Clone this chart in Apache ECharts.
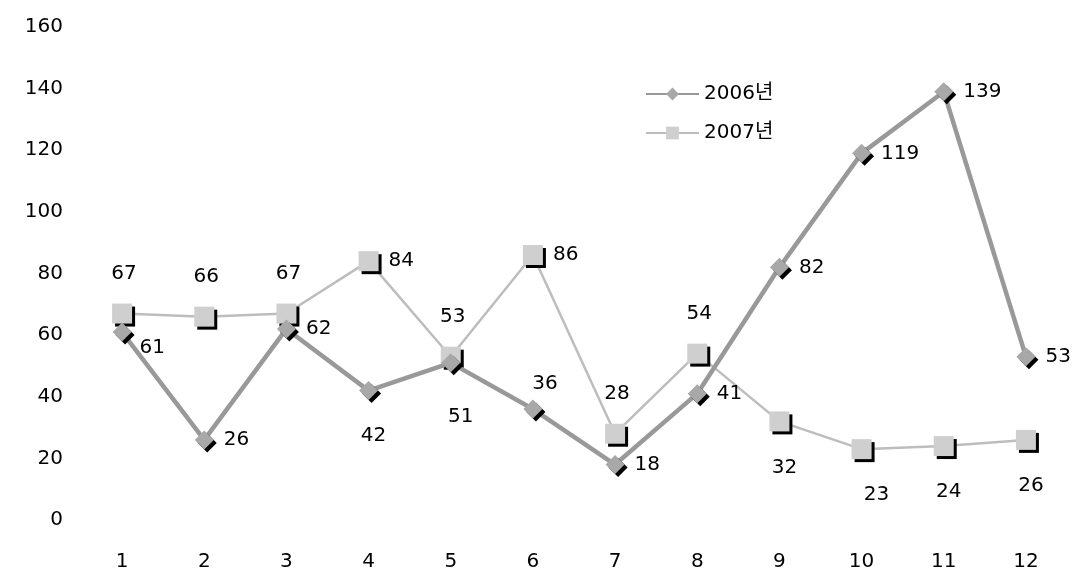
<!DOCTYPE html>
<html>
<head>
<meta charset="utf-8">
<script src="https://cdn.jsdelivr.net/npm/echarts@6/dist/echarts.min.js"></script>
<style>
  html, body { margin: 0; padding: 0; background: #fff; }
  #chart { width: 1092px; height: 572px; }
</style>
</head>
<body>
<div id="chart"></div>
<script>
// Months 1–12
const months = ['1', '2', '3', '4', '5', '6', '7', '8', '9', '10', '11', '12'];
const seriesNames = ['2006년', '2007년'];
const values2006 = [61, 26, 62, 42, 51, 36, 18, 41, 82, 119, 139, 53];
const values2007 = [67, 66, 67, 84, 53, 86, 28, 54, 32, 23, 24, 26];

// Where each value label sits relative to its marker
const place2006 = ['rb', 'r', 'r', 'b', 'bb', 'tr', 'r', 'r', 'r', 'r', 'r', 'r'];
const place2007 = ['t', 't', 't', 'r', 't', 'r', 't', 't', 'b', 'bf', 'b', 'b'];

const FONT = '"DejaVu Sans", "Noto Sans CJK KR", sans-serif';

function labelFor(code) {
  switch (code) {
    case 'r':  return { position: 'right', distance: 10 };
    case 'rb': return { position: 'right', distance: 8, offset: [0, 16] };
    case 'b':  return { position: 'bottom', distance: 26, offset: [5, 0] };
    case 'bb': return { position: 'bottom', distance: 34, offset: [10, 0] };
    case 'bf': return { position: 'bottom', distance: 26, offset: [15, 0] };
    case 'tr': return { position: 'top', distance: 6, offset: [12, 0] };
    case 't':  return { position: 'top', distance: 20, offset: [2, 0] };
  }
}

function buildData(values, places) {
  return values.map((v, i) => ({ value: v, label: labelFor(places[i]) }));
}

const chart = echarts.init(document.getElementById('chart'), null, { renderer: 'canvas' });

chart.setOption({
  animation: false,
  backgroundColor: '#fff',
  textStyle: { fontFamily: FONT },
  grid: { left: 81, right: 25, top: 27, bottom: 50 },
  legend: {
    data: seriesNames,
    orient: 'vertical',
    left: 640,
    top: 79,
    itemWidth: 53,
    itemHeight: 16,
    itemGap: 19,
    textStyle: { fontSize: 20, color: '#000', fontFamily: FONT }
  },
  xAxis: {
    type: 'category',
    data: months,
    boundaryGap: true,
    axisLine: { show: false },
    axisTick: { show: false },
    axisLabel: { fontSize: 20, color: '#000', margin: 32, fontFamily: FONT }
  },
  yAxis: {
    type: 'value',
    min: 0,
    max: 160,
    interval: 20,
    axisLine: { show: false },
    axisTick: { show: false },
    splitLine: { show: false },
    axisLabel: { fontSize: 20, color: '#000', margin: 18, fontFamily: FONT }
  },
  series: [
    {
      name: seriesNames[0],
      type: 'line',
      data: buildData(values2006, place2006),
      symbol: 'diamond',
      symbolSize: 19,
      lineStyle: { color: '#999999', width: 4.5 },
      itemStyle: {
        color: '#a8a8a8',
        shadowColor: '#000',
        shadowOffsetX: 3,
        shadowOffsetY: 3,
        shadowBlur: 0
      },
      label: { show: true, fontSize: 20, color: '#000', fontFamily: FONT },
      z: 3
    },
    {
      name: seriesNames[1],
      type: 'line',
      data: buildData(values2007, place2007),
      symbol: 'rect',
      symbolSize: 20,
      lineStyle: { color: '#bdbdbd', width: 2.5 },
      itemStyle: {
        color: '#cfcfcf',
        shadowColor: '#000',
        shadowOffsetX: 3,
        shadowOffsetY: 3,
        shadowBlur: 0
      },
      label: { show: true, fontSize: 20, color: '#000', fontFamily: FONT },
      z: 2
    }
  ]
});
</script>
</body>
</html>
